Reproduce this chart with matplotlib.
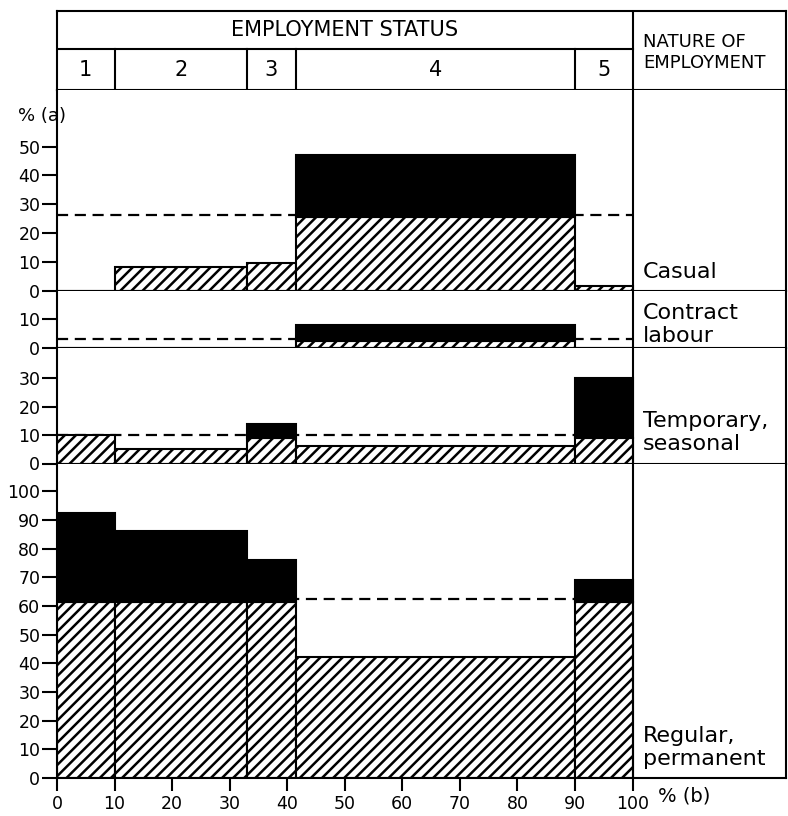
import matplotlib
matplotlib.use("Agg")
import matplotlib.pyplot as plt
from matplotlib.transforms import blended_transform_factory

# employment status columns (share of workforce, % (b))
status_edges = [0, 10, 33, 41.5, 90, 100]
status_labels = ["1", "2", "3", "4", "5"]

# nature of employment panels, % (a): hatched part, total bar height, average line
casual_hatch = [0, 8.3, 9.7, 25.5, 1.6]
casual_total = [0, 8.3, 9.7, 47.2, 1.6]
casual_avg = 26.2

contract_hatch = [0, 0, 0, 2.4, 0]
contract_total = [0, 0, 0, 7.9, 0]
contract_avg = 3.1

temporary_hatch = [10, 5.2, 9.0, 6.3, 9.0]
temporary_total = [10, 5.2, 13.8, 6.3, 30.3]
temporary_avg = 10

regular_hatch = [61.5, 61.5, 61.5, 42.2, 61.5]
regular_total = [92.4, 86.2, 76.2, 42.2, 69.2]
regular_avg = 62.4

panel_names = ["Casual", "Contract\nlabour", "Temporary,\nseasonal", "Regular,\npermanent"]

plt.rcParams["font.family"] = ["DejaVu Sans"]
plt.rcParams["hatch.linewidth"] = 1.8

W, H = 788, 816
LEFT_PX, RIGHT_PX, X100_PX = 57, 786, 632.5
XMAX = 100 * (RIGHT_PX - LEFT_PX) / (X100_PX - LEFT_PX)
LW = 1.5


def rect(top, bottom):
    return [LEFT_PX / W, 1 - bottom / H, (RIGHT_PX - LEFT_PX) / W, (bottom - top) / H]


fig = plt.figure(figsize=(W / 100, H / 100), dpi=100)

# header
hx = fig.add_axes(rect(11, 90))
hx.set_xlim(0, XMAX)
hx.set_ylim(0, 1)
hx.set_xticks([])
hx.set_yticks([])
for s in hx.spines.values():
    s.set_linewidth(LW)
hx.plot([0, 100], [0.52, 0.52], color="black", lw=LW)
hx.plot([100, 100], [0, 1], color="black", lw=LW)
for e in status_edges[1:-1]:
    hx.plot([e, e], [0, 0.52], color="black", lw=LW)
hx.text(50, 0.76, "EMPLOYMENT STATUS", ha="center", va="center", fontsize=15)
for i, lab in enumerate(status_labels):
    mid = (status_edges[i] + status_edges[i + 1]) / 2
    hx.text(mid, 0.25, lab, ha="center", va="center", fontsize=15)
hx.text(101.8, 0.28, "NATURE OF\nEMPLOYMENT", ha="left", va="baseline",
        fontsize=13, linespacing=1.2)

panels = [
    (casual_hatch, casual_total, casual_avg, 69.6, range(0, 51, 10), 90, 291, 0.065),
    (contract_hatch, contract_total, contract_avg, 19.8, [0, 10], 291, 348, 0.11),
    (temporary_hatch, temporary_total, temporary_avg, 40.7, range(0, 31, 10), 348, 463.5, 0.115),
    (regular_hatch, regular_total, regular_avg, 109.7, range(0, 101, 10), 463.5, 778, 0.041),
]

lefts = status_edges[:-1]
widths = [b - a for a, b in zip(status_edges[:-1], status_edges[1:])]

axes = []
for (hatch_v, total_v, avg, ymax, yt, top, bot, lab_y), name in zip(panels, panel_names):
    ax = fig.add_axes(rect(top, bot))
    ax.set_xlim(0, XMAX)
    ax.set_ylim(0, ymax)
    ax.axhline(avg, xmin=0, xmax=100 / XMAX, color="black", lw=1.6,
               linestyle=(0, (5, 3)), zorder=0.5)
    ax.bar(lefts, hatch_v, width=widths, align="edge", facecolor="white",
           edgecolor="black", hatch="///", linewidth=LW, zorder=2)
    black_h = [t - h for h, t in zip(hatch_v, total_v)]
    keep = [i for i, b in enumerate(black_h) if b > 0]
    ax.bar([lefts[i] for i in keep], [black_h[i] for i in keep],
           width=[widths[i] for i in keep], bottom=[hatch_v[i] for i in keep],
           align="edge", color="black", edgecolor="black", linewidth=LW, zorder=2)
    ax.axvline(100, color="black", lw=LW, zorder=3)
    ax.set_yticks(list(yt))
    ax.tick_params(axis="y", direction="out", length=11, width=LW, pad=1, labelsize=12.5)
    ax.set_xticks([])
    ax.spines["top"].set_visible(False)
    for s in ("left", "bottom", "right"):
        ax.spines[s].set_linewidth(LW)
    tr = blended_transform_factory(ax.transData, ax.transAxes)
    ax.text(101.8, lab_y, name, transform=tr, ha="left", va="baseline",
            fontsize=16, linespacing=1.2)
    axes.append(ax)

axes[0].text(-6.8, 0.87, "% (a)", transform=blended_transform_factory(axes[0].transData, axes[0].transAxes),
             ha="left", va="center", fontsize=13)

bottom_ax = axes[-1]
bottom_ax.set_xticks(range(0, 101, 10))
bottom_ax.tick_params(axis="x", direction="out", length=9, width=LW, pad=3, labelsize=12.5)
bottom_ax.annotate("% (b)", xy=(104.4, 0), xycoords=("data", "axes fraction"),
                   xytext=(0, -13), textcoords="offset points",
                   ha="left", va="center", fontsize=14)

fig.savefig("out.png", dpi=100, facecolor="white")
